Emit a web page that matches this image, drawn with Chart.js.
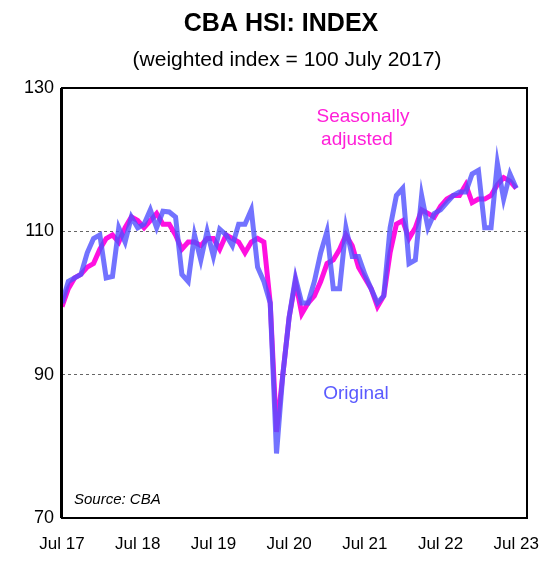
<!DOCTYPE html>
<html>
<head>
<meta charset="utf-8">
<script src="https://cdn.jsdelivr.net/npm/chart.js@4"></script>
<style>
  body { margin: 0; background: #fff; }
  #wrap { width: 557px; height: 568px; }
</style>
</head>
<body>
<div id="wrap"><canvas id="myChart"></canvas></div>
<script>
// months since Jul 2017, Jul 2017 .. Jul 2023
const original = [100, 103, 103.5, 104, 107, 109, 109.5, 103.5, 103.7, 110.5, 108.5, 112, 110.5, 111, 113, 110.5,
    112.8, 112.7, 112, 104, 103, 109.5, 106, 110, 106.5, 110.3, 109.5, 108, 111, 111, 113, 105, 103, 100, 79, 90,
    98, 103.5, 100, 100, 103, 107, 110, 102, 102, 110.5, 106.5, 106.5, 104, 102, 100, 101, 110.5, 115, 116, 105.5,
    106, 115, 110.5, 112.5, 113, 114, 115, 115.5, 115.5, 118, 118.5, 110.5, 110.5, 119.5, 114.5, 118, 116];
const seasAdj = [99.5, 102, 103.5, 104, 105, 105.5, 107.5, 109, 109.5, 108.5, 110.5, 112, 111.5, 110.5, 111.5, 112.5,
    111, 111, 109.5, 107.5, 108.5, 108.5, 108, 109, 109, 107.5, 109.5, 109, 108.5, 107, 108.5, 109, 108.5, 100, 82, 90,
    98, 103, 98.5, 100, 101, 103, 105.5, 106, 107.5, 109.5, 108, 105, 103.5, 102, 99.5, 101, 107, 111, 111.5, 109,
    110.5, 113, 112.5, 112, 113.5, 114.5, 115, 115, 116.5, 114, 114.5, 114.5, 115, 116.5, 117.5, 117, 116];
const yTicks = [70, 90, 110, 130];
const xTickYears = ['Jul 17', 'Jul 18', 'Jul 19', 'Jul 20', 'Jul 21', 'Jul 22', 'Jul 23'];

const toPoints = (arr) => arr.map((v, i) => ({ x: i, y: v }));

const decor = {
    id: 'decor',
    afterDraw: (chart) => {
        const ctx = chart.ctx;
        const a = chart.chartArea;
        ctx.save();
        ctx.strokeStyle = '#000';
        ctx.lineWidth = 2;
        ctx.strokeRect(a.left, a.top, a.right - a.left, a.bottom - a.top);
        ctx.fillRect(a.left - 2, a.top, 3, a.bottom - a.top);
        ctx.textAlign = 'center';
        ctx.fillStyle = '#000';
        ctx.font = 'bold 25px Arial, "Liberation Sans"';
        ctx.fillText('CBA HSI: INDEX', 281, 31);
        ctx.font = '21px Arial, "Liberation Sans"';
        ctx.fillText('(weighted index = 100 July 2017)', 287, 66);
        ctx.fillStyle = '#ff1fd8';
        ctx.font = '19px Arial, "Liberation Sans"';
        ctx.fillText('Seasonally', 363, 122);
        ctx.fillText('adjusted', 357, 145);
        ctx.fillStyle = '#5a5aff';
        ctx.fillText('Original', 356, 399);
        ctx.textAlign = 'left';
        ctx.fillStyle = '#000';
        ctx.font = 'italic 15px Arial, "Liberation Sans"';
        ctx.fillText('Source: CBA', 74, 504);
        ctx.restore();
    }
};

var ctx = document.getElementById('myChart').getContext('2d');
var chart = new Chart(ctx, {
    type: 'line',
    data: {
        datasets: [{
            label: 'Original',
            data: toPoints(original),
            borderColor: 'rgba(80, 80, 255, 0.8)',
            borderWidth: 5,
            pointRadius: 0,
            tension: 0
        }, {
            label: 'Seasonally adjusted',
            data: toPoints(seasAdj),
            borderColor: '#ff10e0',
            borderWidth: 5,
            pointRadius: 0,
            tension: 0
        }]
    },
    options: {
        responsive: true,
        maintainAspectRatio: false,
        animation: false,
        layout: { padding: { top: 88, right: 30, left: 0, bottom: 0 } },
        plugins: { legend: { display: false }, tooltip: { enabled: false } },
        scales: {
            x: {
                type: 'linear',
                min: 0,
                max: 73.7,
                afterFit: (s) => { s.height = 50; },
                afterBuildTicks: (s) => { s.ticks = xTickYears.map((t, i) => ({ value: i * 12 })); },
                ticks: {
                    color: '#000',
                    font: { size: 17, family: 'Arial, "Liberation Sans"' },
                    maxRotation: 0,
                    padding: 8,
                    callback: (v) => xTickYears[v / 12]
                },
                grid: { display: false },
                border: { display: false }
            },
            y: {
                min: 70,
                max: 130,
                afterFit: (s) => { s.width = 62; },
                afterBuildTicks: (s) => { s.ticks = yTicks.map((v) => ({ value: v })); },
                ticks: {
                    color: '#000',
                    font: { size: 18, family: 'Arial, "Liberation Sans"' },
                    padding: 8
                },
                grid: {
                    drawTicks: false,
                    color: (c) => (c.tick && (c.tick.value === 90 || c.tick.value === 110)) ? '#666' : 'rgba(0,0,0,0)',
                    lineWidth: 1
                },
                border: { display: false, dash: [3, 3] }
            }
        }
    },
    plugins: [decor]
});
</script>
</body>
</html>
